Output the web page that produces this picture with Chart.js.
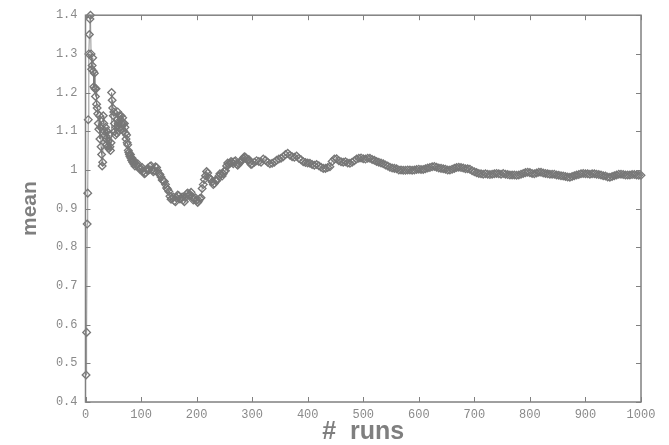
<!DOCTYPE html>
<html>
<head>
<meta charset="utf-8">
<script src="https://cdn.jsdelivr.net/npm/chart.js@4/dist/chart.umd.min.js"></script>
<style>
  html, body { margin: 0; padding: 0; background: #ffffff; }
  #wrap { width: 669px; height: 445px; }
</style>
</head>
<body>
<div id="wrap"><canvas id="chart" width="669" height="445"></canvas></div>
<script>
// running mean, one value per run for the first runs
const earlyMeans = [
  0.47, 0.58, 0.86, 0.94, 1.13, 1.30, 1.35, 1.39, 1.40, 1.30,
  1.26, 1.27, 1.29, 1.255, 1.215, 1.25, 1.21, 1.19, 1.21, 1.17,
  1.16, 1.145, 1.12, 1.105, 1.14, 1.08, 1.11, 1.06, 1.04, 1.01,
  1.02, 1.14, 1.12, 1.10, 1.09, 1.11, 1.08, 1.065, 1.10, 1.06,
  1.075, 1.055, 1.09, 1.06, 1.05, 1.07, 1.20, 1.18, 1.16, 1.14,
  1.15, 1.12, 1.10, 1.09, 1.11, 1.095, 1.13, 1.15, 1.12, 1.10,
  1.14, 1.11, 1.13, 1.14, 1.12, 1.105, 1.135, 1.12, 1.10, 1.12,
  1.11, 1.095, 1.08, 1.09, 1.07, 1.065, 1.05, 1.045, 1.04, 1.035,
  1.04, 1.03, 1.025, 1.03, 1.02, 1.025, 1.015, 1.02, 1.01
];

// runs 92..300, sampled every 2 runs
const midRuns = [
  92, 94, 96, 98, 100, 102, 104, 106, 108, 110,
  112, 114, 116, 118, 120, 122, 124, 126, 128, 130,
  132, 134, 136, 138, 140, 142, 144, 146, 148, 150,
  152, 154, 156, 158, 160, 162, 164, 166, 168, 170,
  172, 174, 176, 178, 180, 182, 184, 186, 188, 190,
  192, 194, 196, 198, 200, 202, 204, 206, 208, 210,
  212, 214, 216, 218, 220, 222, 224, 226, 228, 230,
  232, 234, 236, 238, 240, 242, 244, 246, 248, 250,
  252, 254, 256, 258, 260, 262, 264, 266, 268, 270,
  272, 274, 276, 278, 280, 282, 284, 286, 288, 290,
  292, 294, 296, 298, 300
];
const midMeans = [
  1.012, 1.016, 1.008, 1.001, 1.003, 1.006, 0.996, 0.99, 0.992, 1.001,
  1.004, 1.0, 1.009, 1.011, 1.0, 0.995, 0.998, 1.008, 1.006, 0.998,
  0.99, 0.988, 0.982, 0.974, 0.972, 0.97, 0.962, 0.953, 0.95, 0.944,
  0.932, 0.924, 0.926, 0.93, 0.92, 0.918, 0.928, 0.935, 0.933, 0.925,
  0.926, 0.93, 0.922, 0.918, 0.93, 0.938, 0.94, 0.934, 0.937, 0.942,
  0.93, 0.922, 0.925, 0.928, 0.921, 0.916, 0.92, 0.926, 0.928, 0.952,
  0.962, 0.975, 0.985, 0.996, 0.992, 0.98, 0.978, 0.975, 0.969, 0.962,
  0.965, 0.973, 0.972, 0.976, 0.984, 0.99, 0.988, 0.984, 0.99, 0.997,
  0.998, 1.01, 1.018, 1.014, 1.017, 1.022, 1.02, 1.016, 1.022, 1.024,
  1.015, 1.012, 1.016, 1.021, 1.022, 1.026, 1.03, 1.034, 1.033, 1.028,
  1.025, 1.027, 1.02, 1.014, 1.015
];

// runs 304..1000, sampled every 4 runs
const lateRuns = [
  304, 308, 312, 316, 320, 324,
  328, 332, 336, 340, 344, 348, 352, 356, 360, 364,
  368, 372, 376, 380, 384, 388, 392, 396, 400, 404,
  408, 412, 416, 420, 424, 428, 432, 436, 440, 444,
  448, 452, 456, 460, 464, 468, 472, 476, 480, 484,
  488, 492, 496, 500, 504, 508, 512, 516, 520, 524,
  528, 532, 536, 540, 544, 548, 552, 556, 560, 564,
  568, 572, 576, 580, 584, 588, 592, 596, 600, 604,
  608, 612, 616, 620, 624, 628, 632, 636, 640, 644,
  648, 652, 656, 660, 664, 668, 672, 676, 680, 684,
  688, 692, 696, 700, 704, 708, 712, 716, 720, 724,
  728, 732, 736, 740, 744, 748, 752, 756, 760, 764,
  768, 772, 776, 780, 784, 788, 792, 796, 800, 804,
  808, 812, 816, 820, 824, 828, 832, 836, 840, 844,
  848, 852, 856, 860, 864, 868, 872, 876, 880, 884,
  888, 892, 896, 900, 904, 908, 912, 916, 920, 924,
  928, 932, 936, 940, 944, 948, 952, 956, 960, 964,
  968, 972, 976, 980, 984, 988, 992, 996, 1000
];
const lateMeans = [
  1.02, 1.024, 1.022, 1.02, 1.028, 1.025,
  1.02, 1.016, 1.017, 1.02, 1.025, 1.028, 1.03, 1.034, 1.04, 1.043,
  1.038, 1.034, 1.033, 1.036, 1.03, 1.026, 1.021, 1.019, 1.018, 1.017,
  1.014, 1.012, 1.014, 1.011, 1.007, 1.004, 1.004, 1.006, 1.008, 1.022,
  1.028, 1.029, 1.024, 1.021, 1.02, 1.021, 1.018, 1.017, 1.02, 1.024,
  1.028, 1.03, 1.031, 1.029, 1.028, 1.03, 1.03, 1.027, 1.025, 1.022,
  1.02, 1.018, 1.016, 1.013, 1.01, 1.007, 1.005, 1.004, 1.003, 1.0,
  1.0, 0.999, 0.999, 1.0, 1.0, 0.999, 1.0, 1.001, 1.002, 1.001,
  1.001, 1.003, 1.005, 1.006, 1.008, 1.009, 1.007, 1.005, 1.004, 1.003,
  1.002, 1.0, 1.0, 1.002, 1.004, 1.006, 1.007, 1.006, 1.005, 1.003,
  1.003, 1.002, 0.998, 0.995, 0.993, 0.991, 0.99, 0.989, 0.99, 0.989,
  0.988, 0.989, 0.99, 0.991, 0.99, 0.989, 0.991, 0.989, 0.988, 0.987,
  0.987, 0.987, 0.986, 0.987, 0.989, 0.991, 0.993, 0.994, 0.993, 0.991,
  0.99, 0.992, 0.994, 0.994, 0.992, 0.991, 0.99, 0.989, 0.989, 0.989,
  0.987, 0.986, 0.985, 0.984, 0.983, 0.982, 0.981, 0.983, 0.985, 0.987,
  0.988, 0.99, 0.991, 0.99, 0.99, 0.989, 0.99, 0.99, 0.989, 0.988,
  0.987, 0.985, 0.984, 0.982, 0.981, 0.983, 0.985, 0.987, 0.989, 0.989,
  0.988, 0.987, 0.987, 0.987, 0.988, 0.988, 0.987, 0.986, 0.986
];

const xTicks = [0, 100, 200, 300, 400, 500, 600, 700, 800, 900, 1000];
const yTicks = [0.4, 0.5, 0.6, 0.7, 0.8, 0.9, 1.0, 1.1, 1.2, 1.3, 1.4];

const gray = "#777777";
const points = earlyMeans.map((v, i) => ({ x: i + 1, y: v }))
  .concat(midRuns.map((r, i) => ({ x: r, y: midMeans[i] })))
  .concat(lateRuns.map((r, i) => ({ x: r, y: lateMeans[i] })));

// box round the plot plus inward ticks on all four sides
const frame = {
  id: "frame",
  afterDraw(chart) {
    const { ctx, chartArea: a, scales } = chart;
    ctx.save();
    ctx.strokeStyle = "#808080";
    ctx.lineWidth = 1.5;
    ctx.strokeRect(a.left, a.top, a.right - a.left, a.bottom - a.top);
    ctx.lineWidth = 1;
    const len = 5;
    ctx.beginPath();
    xTicks.forEach((t) => {
      const px = Math.round(scales.x.getPixelForValue(t)) + 0.5;
      ctx.moveTo(px, a.bottom); ctx.lineTo(px, a.bottom - len);
      ctx.moveTo(px, a.top); ctx.lineTo(px, a.top + len);
    });
    yTicks.forEach((t) => {
      const py = Math.round(scales.y.getPixelForValue(t)) + 0.5;
      ctx.moveTo(a.left, py); ctx.lineTo(a.left + len, py);
      ctx.moveTo(a.right, py); ctx.lineTo(a.right - len, py);
    });
    ctx.stroke();
    ctx.restore();
  },
};

new Chart(document.getElementById("chart"), {
  type: "line",
  data: {
    datasets: [
      {
        data: points,
        borderColor: gray,
        borderWidth: 0.8,
        pointStyle: "rectRot",
        pointRadius: 3.8,
        pointBorderWidth: 1.35,
        pointBorderColor: gray,
        pointBackgroundColor: "rgba(0,0,0,0)",
        tension: 0,
        clip: false,
      },
    ],
  },
  options: {
    responsive: false,
    animation: false,
    layout: { padding: { top: 13, right: 28, left: 0, bottom: 0 } },
    plugins: { legend: { display: false }, tooltip: { enabled: false } },
    scales: {
      x: {
        type: "linear",
        min: 0,
        max: 1000,
        afterBuildTicks: (s) => { s.ticks = xTicks.map((v) => ({ value: v })); },
        afterFit: (s) => { s.height = 43; },
        grid: { display: false, drawTicks: false },
        border: { display: false },
        ticks: {
          padding: 6,
          color: "#8a8a8a",
          font: { family: "Liberation Mono", size: 12 },
          callback: (v) => String(v),
        },
        title: {
          display: true,
          text: "#  runs",
          color: "#7f7f7f",
          font: { family: "Liberation Sans", weight: "bold", size: 25, lineHeight: 1 },
          padding: { top: 0, bottom: 0 },
        },
      },
      y: {
        min: 0.4,
        max: 1.4,
        afterBuildTicks: (s) => { s.ticks = yTicks.map((v) => ({ value: v })); },
        afterFit: (s) => { s.width = 85.5; },
        grid: { display: false, drawTicks: false },
        border: { display: false },
        ticks: {
          padding: 8,
          color: "#8a8a8a",
          font: { family: "Liberation Mono", size: 12 },
          callback: (v) => (Math.abs(v - 1) < 1e-9 ? "1" : v.toFixed(1)),
        },
        title: {
          display: true,
          text: "mean",
          color: "#7f7f7f",
          font: { family: "Liberation Sans", weight: "bold", size: 21, lineHeight: 1 },
          padding: { top: 20, bottom: 0 },
        },
      },
    },
  },
  plugins: [frame],
});
</script>
</body>
</html>
